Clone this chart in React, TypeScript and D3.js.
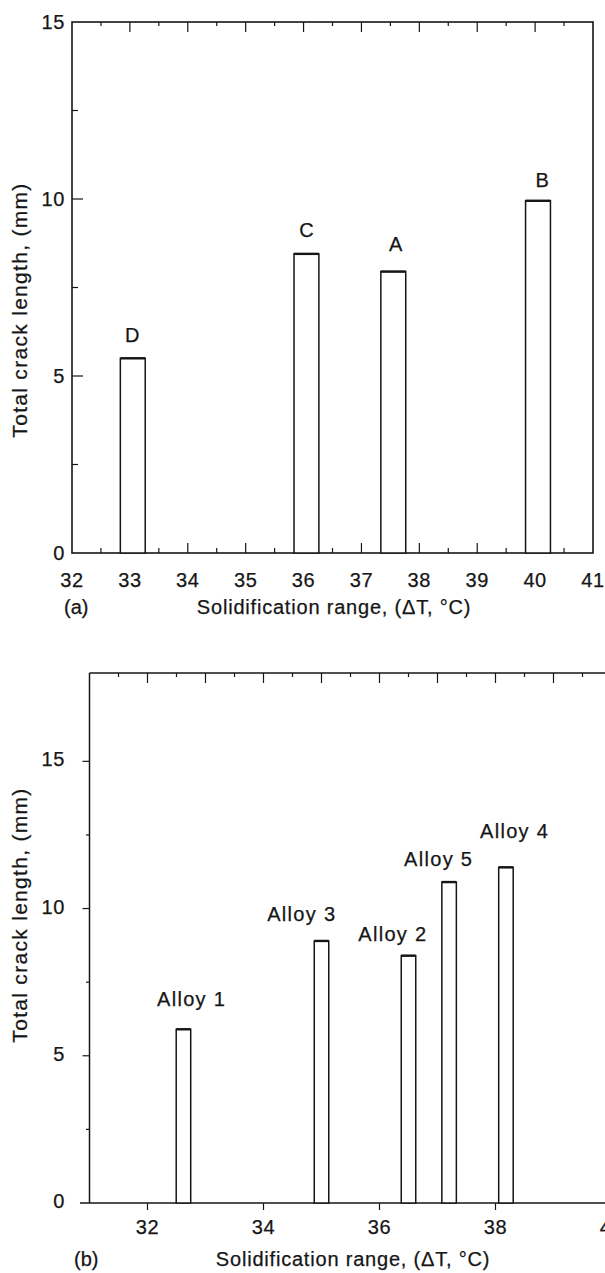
import React from 'react';
import * as d3 from 'd3';

// ---------- Panel (a) data ----------
const alloysA = ['D', 'C', 'A', 'B'];
const rangeA = [33.05, 36.05, 37.55, 40.05];
const crackA = [5.5, 8.45, 7.95, 9.95];
const labelXA = [33.05, 36.06, 37.6, 40.13];
const labelYA = [5.95, 8.94, 8.54, 10.35];
const xTicksA = [32, 33, 34, 35, 36, 37, 38, 39, 40, 41];
const yTicksA = [0, 5, 10, 15];

// ---------- Panel (b) data ----------
const alloysB = ['Alloy 1', 'Alloy 3', 'Alloy 2', 'Alloy 5', 'Alloy 4'];
const rangeB = [32.62, 35.0, 36.5, 37.2, 38.18];
const crackB = [5.9, 8.9, 8.4, 10.9, 11.4];
const labelXB = [32.76, 34.66, 36.23, 37.02, 38.33];
const labelYB = [6.68, 9.57, 8.91, 11.46, 12.41];
const xTicksB = [32, 34, 36, 38, 40];
const yTicksB = [0, 5, 10, 15];

const xTitle = 'Solidification range, (\u0394T, \u00B0C)';
const yTitle = 'Total crack length, (mm)';

const INK = '#161616';
const FONT = '"Liberation Sans", Arial, Helvetica, sans-serif';
const TXT = { fill: INK, fontFamily: FONT, stroke: INK, strokeWidth: 0.25 } as const;

function halfSteps(a: number, b: number) {
  const out: number[] = [];
  for (let v = a; v <= b + 1e-9; v += 0.5) out.push(+v.toFixed(2));
  return out;
}

function PanelA() {
  const x = d3.scaleLinear().domain([32, 41]).range([72, 593]);
  const y = d3.scaleLinear().domain([0, 15]).range([553, 22]);
  const hw = 0.215;
  const xt = halfSteps(32.5, 40.5);
  const yt = d3.range(2.5, 15, 2.5);
  return (
    <g>
      <rect x={x(32)} y={y(15)} width={x(41) - x(32)} height={y(0) - y(15)} fill="none" stroke={INK} strokeWidth={1.6} />
      {xt.map((v) => (
        <line key={'xb' + v} x1={x(v)} x2={x(v)} y1={y(0)} y2={y(0) - (Number.isInteger(v) ? 10 : 5)} stroke={INK} strokeWidth={1.2} />
      ))}
      {xt.map((v) => (
        <line key={'xt' + v} x1={x(v)} x2={x(v)} y1={y(15)} y2={y(15) + (Number.isInteger(v) ? 10 : 4)} stroke={INK} strokeWidth={1.2} />
      ))}
      {yt.map((v) => (
        <line key={'yl' + v} x1={x(32)} x2={x(32) + (v % 5 === 0 ? 11 : 6)} y1={y(v)} y2={y(v)} stroke={INK} strokeWidth={1.2} />
      ))}
      {rangeA.map((r, i) => (
        <g key={'bar' + i}>
          <rect x={x(r - hw)} y={y(crackA[i])} width={x(r + hw) - x(r - hw)} height={y(0) - y(crackA[i])} fill="#fff" stroke={INK} strokeWidth={1.5} />
          <line x1={x(r - hw)} x2={x(r + hw)} y1={y(crackA[i])} y2={y(crackA[i])} stroke={INK} strokeWidth={2.4} />
          <text x={x(labelXA[i])} y={y(labelYA[i])} textAnchor="middle" fontSize={20} letterSpacing={1} {...TXT}>{alloysA[i]}</text>
        </g>
      ))}
      {xTicksA.map((v) => (
        <text key={'xl' + v} x={x(v)} y={587} textAnchor="middle" fontSize={20} letterSpacing={0.6} {...TXT}>{v}</text>
      ))}
      {yTicksA.map((v) => (
        <text key={'yll' + v} x={65} y={y(v) + 7} textAnchor="end" fontSize={20} letterSpacing={0.6} {...TXT}>{v}</text>
      ))}
      <text x={64} y={614} fontSize={20} {...TXT}>(a)</text>
      <text x={334} y={614} textAnchor="middle" fontSize={20} letterSpacing={0.8} {...TXT}>{xTitle}</text>
      <text transform={`translate(27,${310}) rotate(-90)`} textAnchor="middle" fontSize={21} letterSpacing={1.3} {...TXT}>{yTitle}</text>
    </g>
  );
}

function PanelB() {
  const x = d3.scaleLinear().domain([31, 41]).range([89.5, 669.5]);
  const y = d3.scaleLinear().domain([0, 18]).range([1203, 673]);
  const hw = 0.125;
  const xt = halfSteps(31.5, 40.5);
  const yt = d3.range(2.5, 17, 2.5);
  const right = 605;
  return (
    <g>
      <line x1={x(31)} x2={x(31)} y1={y(18)} y2={y(0)} stroke={INK} strokeWidth={1.5} />
      <line x1={x(31)} x2={right} y1={y(18)} y2={y(18)} stroke={INK} strokeWidth={1.6} />
      <line x1={80} x2={right} y1={y(0)} y2={y(0)} stroke={INK} strokeWidth={1.6} />
      {xt.map((v) => (
        <line key={'xt' + v} x1={x(v)} x2={x(v)} y1={y(18)} y2={y(18) + (Number.isInteger(v) ? 10 : 4)} stroke={INK} strokeWidth={1.2} />
      ))}
      {xTicksB.map((v) => (
        <line key={'xb' + v} x1={x(v)} x2={x(v)} y1={y(0)} y2={y(0) + 7} stroke={INK} strokeWidth={1.2} />
      ))}
      {yt.map((v) => (
        <line key={'yl' + v} x1={x(31)} x2={x(31) - (v % 5 === 0 ? 7 : 3.5)} y1={y(v)} y2={y(v)} stroke={INK} strokeWidth={1.2} />
      ))}
      {rangeB.map((r, i) => (
        <g key={'bar' + i}>
          <rect x={x(r - hw)} y={y(crackB[i])} width={x(r + hw) - x(r - hw)} height={y(0) - y(crackB[i])} fill="#fff" stroke={INK} strokeWidth={1.5} />
          <line x1={x(r - hw)} x2={x(r + hw)} y1={y(crackB[i])} y2={y(crackB[i])} stroke={INK} strokeWidth={2.4} />
          <text x={x(labelXB[i])} y={y(labelYB[i])} textAnchor="middle" fontSize={20} letterSpacing={1.3} {...TXT}>{alloysB[i]}</text>
        </g>
      ))}
      {xTicksB.map((v) => (
        <text key={'xl' + v} x={x(v)} y={1234} textAnchor="middle" fontSize={20} letterSpacing={0.6} {...TXT}>{v}</text>
      ))}
      {yTicksB.map((v) => (
        <text key={'yll' + v} x={65} y={y(v) + 5} textAnchor="end" fontSize={20} letterSpacing={0.6} {...TXT}>{v}</text>
      ))}
      <text x={74} y={1266} fontSize={20} {...TXT}>(b)</text>
      <text x={353} y={1266} textAnchor="middle" fontSize={20} letterSpacing={0.8} {...TXT}>{xTitle}</text>
      <text transform={`translate(27,${915}) rotate(-90)`} textAnchor="middle" fontSize={21} letterSpacing={1.3} {...TXT}>{yTitle}</text>
    </g>
  );
}

export default function App() {
  return (
    <svg width={605} height={1273} style={{ position: 'absolute', left: 0, top: 0, background: '#fff' }} xmlns="http://www.w3.org/2000/svg">
      <rect width={605} height={1273} fill="#fff" />
      <PanelA />
      <PanelB />
    </svg>
  );
}
